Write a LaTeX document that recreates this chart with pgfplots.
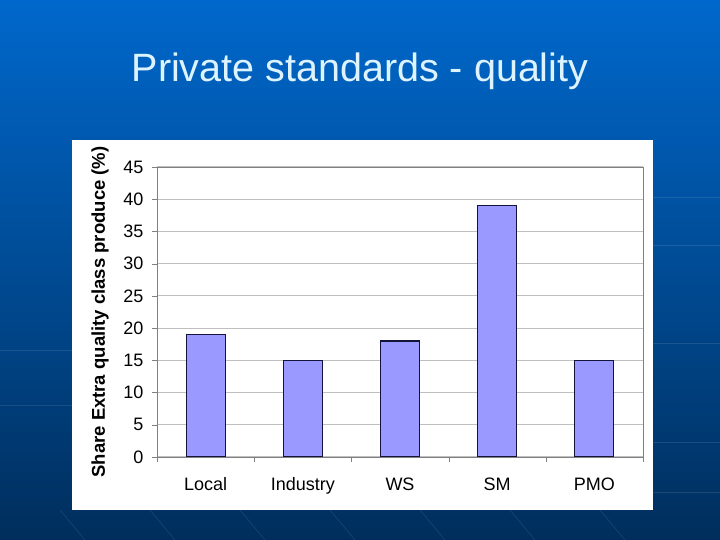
\documentclass[border=0pt]{standalone}
\usepackage{pgfplots}
\pgfplotsset{compat=1.18}
\usepackage{fontspec}
\setmainfont{Liberation Sans}
\definecolor{bgtop}{HTML}{0068CC}
\definecolor{bgbot}{HTML}{002E5C}
\definecolor{titlecol}{HTML}{DDF3FF}
\definecolor{barfill}{HTML}{9999FF}
\definecolor{baredge}{HTML}{14143A}
\begin{document}
\begin{tikzpicture}[x=1pt,y=1pt]
\useasboundingbox (0,0) rectangle (720,540);
\shade[top color=bgtop,bottom color=bgbot] (0,0) rectangle (720,540);
% faint decorative lines of the slide background
\begin{scope}[draw=white,opacity=0.1,line width=0.6pt]
  \draw (653,343) -- (720,343);
  \draw (653,295) -- (720,295);
  \draw (653,197) -- (720,197);
  \draw (653,98) -- (720,98);
  \draw (653,48) -- (720,48);
  \draw (0,190) -- (72,190);
  \draw (0,135) -- (72,135);
  \foreach \x in {60,150,240,330,420,510,600}
    \draw (\x,30) -- (\x+25,0);
\end{scope}
\fill[white] (72,30) rectangle (653,400);
\node[text=titlecol,font=\fontsize{39.5}{46}\selectfont] at (360,469) {Private standards - quality};
\begin{axis}[
  at={(157pt,83pt)}, anchor=south west,
  scale only axis, width=486pt, height=290pt,
  xmin=-0.5, xmax=4.5, ymin=0, ymax=45,
  xtick={0,...,4},
  xticklabels={Local,Industry,WS,SM,PMO},
  minor xtick={-0.5,0.5,...,4.5},
  ytick={0,5,...,45},
  xtick pos=bottom, ytick pos=left,
  tick align=outside,
  major x tick style={draw=none},
  minor x tick style={draw=gray},
  y tick style={draw=gray},
  major tick length=5pt, minor tick length=5pt,
  ymajorgrids,
  grid style={draw=gray!50,line width=1pt},
  axis line style={draw=gray,line width=0.9pt},
  tick label style={font=\fontsize{18}{21}\selectfont},
  /pgf/number format/assume math mode=true,
  xticklabel style={yshift=-12pt},
  yticklabel style={xshift=-5pt},
  ylabel={Share Extra quality class produce (\%)},
  ylabel style={at={(axis description cs:-0.117,0.5)},anchor=center,rotate=0,
    font=\bfseries\fontsize{18.5}{22}\selectfont},
]
\addplot[ybar, bar width=39pt, fill=barfill, draw=baredge, line width=1.1pt]
  coordinates {(0,19) (1,15) (2,18) (3,39) (4,15)};
\end{axis}
\end{tikzpicture}
\end{document}
